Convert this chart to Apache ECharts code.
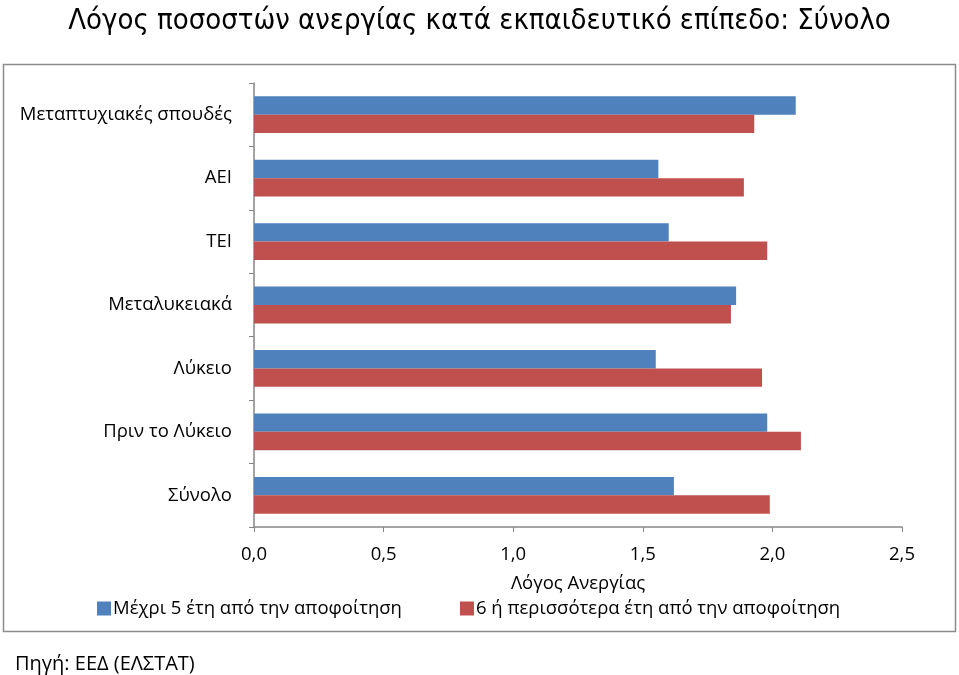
<!DOCTYPE html>
<html>
<head>
<meta charset="utf-8">
<script src="https://cdn.jsdelivr.net/npm/echarts@6/dist/echarts.min.js"></script>
<style>
html,body{margin:0;padding:0;background:#fff;}
#chart{width:959px;height:675px;}
</style>
</head>
<body>
<div id="chart"></div>
<script>
const categories = ['Μεταπτυχιακές σπουδές', 'ΑΕΙ', 'ΤΕΙ', 'Μεταλυκειακά', 'Λύκειο', 'Πριν το Λύκειο', 'Σύνολο'];
const seriesNames = ['Μέχρι 5 έτη από την αποφοίτηση', '6 ή περισσότερα έτη από την αποφοίτηση'];
const upTo5Years = [2.09, 1.56, 1.60, 1.86, 1.55, 1.98, 1.62];
const sixOrMoreYears = [1.93, 1.89, 1.98, 1.84, 1.96, 2.11, 1.99];
const xTicks = [0, 0.5, 1.0, 1.5, 2.0, 2.5];

const FONT = '"Open Sans", "Liberation Sans", sans-serif';
const FS = 18.5;
const chart = echarts.init(document.getElementById('chart'), null, {renderer: 'canvas'});
chart.setOption({
  animation: false,
  backgroundColor: '#fff',
  title: [{
    text: 'Λόγος ποσοστών ανεργίας κατά εκπαιδευτικό επίπεδο: Σύνολο',
    left: 'center', top: 2,
    textStyle: {fontFamily: '"Liberation Sans Narrow", "DejaVu Sans Condensed", sans-serif', fontWeight: 'normal', fontSize: 29, color: '#000'}
  }, {
    text: 'Πηγή: ΕΕΔ (ΕΛΣΤΑΤ)',
    left: 10, top: 649,
    textStyle: {fontFamily: FONT, fontWeight: 'normal', fontSize: 20, color: '#000'}
  }],
  graphic: [{
    type: 'rect', shape: {x: 3.5, y: 64.5, width: 952, height: 567},
    style: {fill: 'none', stroke: '#8c8c8c', lineWidth: 1.5}, silent: true, z: -1
  }],
  legend: {
    left: 92, top: 594, itemWidth: 14, itemHeight: 14, itemGap: 58,
    icon: 'rect',
    textStyle: {fontFamily: FONT, fontSize: FS, color: '#000', padding: [0, 0, 0, -3]},
    data: seriesNames
  },
  grid: {left: 254, right: 57, top: 83, bottom: 148, containLabel: false},
  xAxis: {
    type: 'value', min: 0, max: 2.5, interval: 0.5,
    name: 'Λόγος Ανεργίας', nameLocation: 'middle', nameGap: 47,
    nameTextStyle: {fontFamily: FONT, fontSize: FS, color: '#000'},
    axisLine: {show: true, lineStyle: {color: '#868686', width: 1.5}},
    axisTick: {show: true, length: 5, lineStyle: {color: '#868686'}},
    splitLine: {show: false},
    axisLabel: {
      fontFamily: FONT, fontSize: FS, color: '#000', margin: 18,
      formatter: v => v.toFixed(1).replace('.', ',')
    }
  },
  yAxis: {
    type: 'category', data: categories, inverse: true,
    axisLine: {show: true, lineStyle: {color: '#868686', width: 1.5}},
    axisTick: {show: true, length: 5, lineStyle: {color: '#868686'}},
    axisLabel: {fontFamily: FONT, fontSize: FS, color: '#000', margin: 22}
  },
  series: [{
    name: seriesNames[0], type: 'bar', data: upTo5Years,
    itemStyle: {color: '#4F81BD'}, barGap: '0%', barCategoryGap: '42%'
  }, {
    name: seriesNames[1], type: 'bar', data: sixOrMoreYears,
    itemStyle: {color: '#C0504D'}, barGap: '0%', barCategoryGap: '42%'
  }]
});
</script>
</body>
</html>
